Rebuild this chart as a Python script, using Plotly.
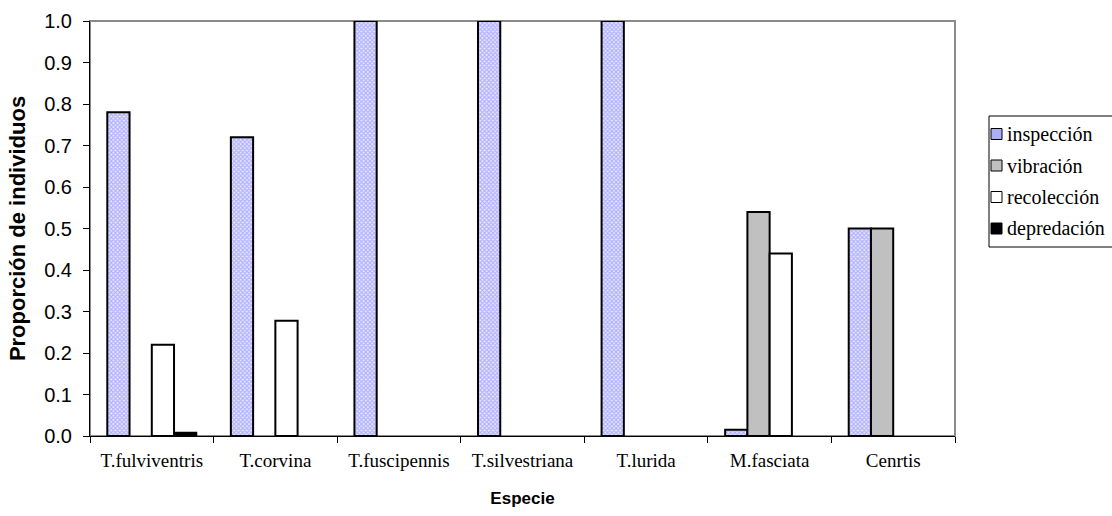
import plotly.graph_objects as go

especies = ["T.fulviventris", "T.corvina", "T.fuscipennis", "T.silvestriana",
            "T.lurida", "M.fasciata", "Cenrtis"]
inspeccion = [0.78, 0.72, 1.0, 1.0, 1.0, 0.015, 0.5]
vibracion = [0.0, 0.0, 0.0, 0.0, 0.0, 0.54, 0.5]
recoleccion = [0.22, 0.278, 0.0, 0.0, 0.0, 0.44, 0.0]
depredacion = [0.008, 0.0, 0.0, 0.0, 0.0, 0.0, 0.0]
series_names = ["inspección", "vibración", "recolección", "depredación"]

W, H = 1112, 516
ML, MR, MT, MB = 90, 157, 21, 80
PW, PH = W - ML - MR, H - MT - MB

hatch = dict(shape="x", size=3, solidity=0.6, fgcolor="#7878ff",
             bgcolor="#e8e8ff", fillmode="overlay")
styles = [
    dict(color="#ffffff", pattern=hatch),
    dict(color="#c0c0c0"),
    dict(color="#ffffff"),
    dict(color="#000000"),
]
swatch = ["#aeaef6", "#c0c0c0", "#ffffff", "#000000"]

fig = go.Figure()
for name, vals, style in zip(series_names,
                             [inspeccion, vibracion, recoleccion, depredacion],
                             styles):
    marker = dict(style)
    # empty bars carry no outline
    marker["line"] = dict(color="#000000", width=[2 if v > 0 else 0 for v in vals])
    fig.add_trace(go.Bar(name=name, x=especies, y=vals, marker=marker,
                         showlegend=False))


def px_x(x):
    return (x - ML) / PW


def px_y(y):
    return (H - MB - y) / PH


shapes = [
    # gray chart frame (top and right edges)
    dict(type="rect", xref="paper", yref="paper", x0=0, x1=1, y0=0, y1=1,
         line=dict(color="#8a8a8a", width=2), layer="below"),
    # legend box
    dict(type="rect", xref="paper", yref="paper",
         x0=px_x(989), x1=px_x(1125), y0=px_y(247), y1=px_y(116),
         line=dict(color="#000000", width=1), fillcolor="#ffffff"),
]
annotations = []
for i, (name, col) in enumerate(zip(series_names, swatch)):
    cy = 134 + i * 31.5
    shapes.append(dict(type="rect", xref="paper", yref="paper",
                       x0=px_x(991), x1=px_x(1002),
                       y0=px_y(cy + 5.5), y1=px_y(cy - 5.5),
                       line=dict(color="#000000", width=1), fillcolor=col))
    annotations.append(dict(xref="paper", yref="paper", x=px_x(1005), y=px_y(cy),
                            xanchor="left", yanchor="middle", text=name,
                            showarrow=False,
                            font=dict(family="Liberation Serif", size=20,
                                      color="#000000")))

fig.update_layout(
    width=W, height=H,
    margin=dict(l=ML, r=MR, t=MT, b=MB, autoexpand=False),
    plot_bgcolor="#ffffff", paper_bgcolor="#ffffff",
    barmode="group", bargap=0.28, bargroupgap=0,
    showlegend=False,
    shapes=shapes, annotations=annotations,
    xaxis=dict(
        title=dict(text="Especie", font=dict(family="Liberation Sans", size=17,
                                             color="#000000", weight="bold"),
                   standoff=22),
        tickfont=dict(family="Liberation Serif", size=19, color="#000000"),
        ticklabelstandoff=7,
        tickson="boundaries", ticks="outside", ticklen=6, tickcolor="#000000",
        showline=True, linecolor="#000000", linewidth=1,
        showgrid=False, zeroline=False,
    ),
    yaxis=dict(
        title=dict(text="Proporción de individuos",
                   font=dict(family="Liberation Sans", size=22,
                             color="#000000", weight="bold"),
                   standoff=12),
        range=[0, 1], dtick=0.1, tickformat=".1f",
        tickfont=dict(family="Liberation Sans", size=20, color="#000000"),
        ticklabelstandoff=7,
        ticks="outside", ticklen=6, tickcolor="#000000",
        showline=True, linecolor="#000000", linewidth=1,
        showgrid=False, zeroline=False,
    ),
)

fig.write_html("out.html")
